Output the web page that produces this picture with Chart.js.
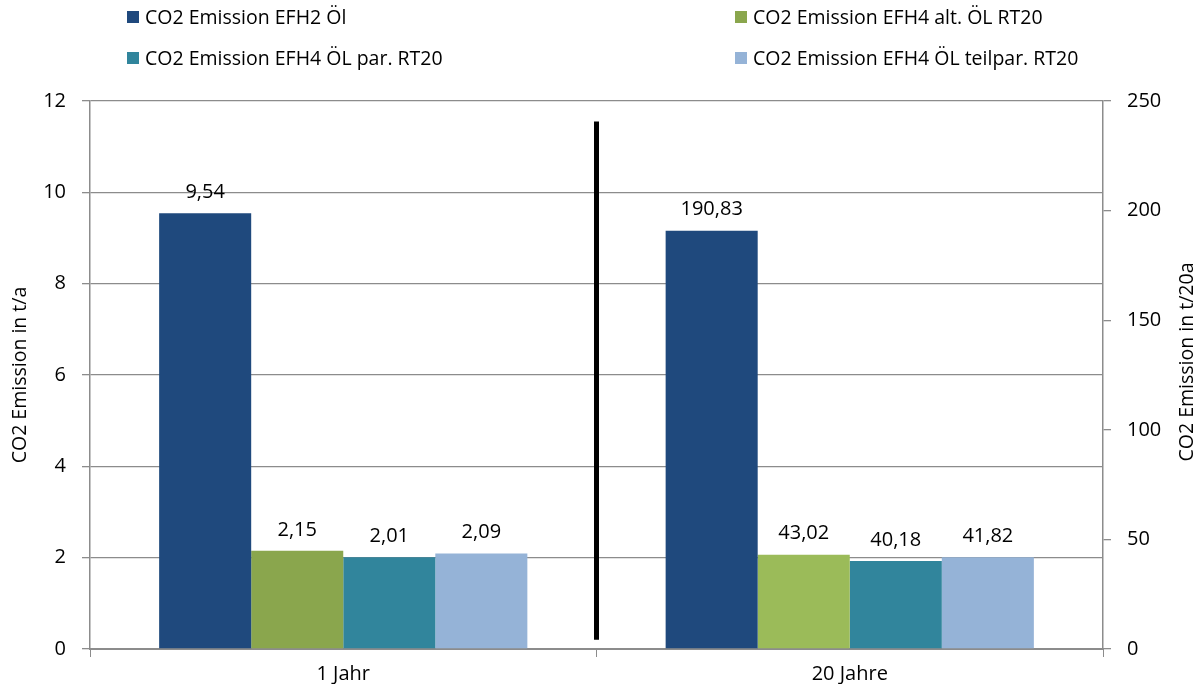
<!DOCTYPE html>
<html>
<head>
<meta charset="utf-8">
<script src="https://cdn.jsdelivr.net/npm/chart.js@4/dist/chart.umd.min.js"></script>
<style>
  html, body { margin: 0; padding: 0; background: #ffffff; }
  #wrap { width: 1198px; height: 684px; position: relative; }
</style>
</head>
<body>
<div id="wrap"><canvas id="chart" width="1198" height="684"></canvas></div>
<script>
// Categories and series
const categories = ['1 Jahr', '20 Jahre'];
const seriesNames = [
  'CO2 Emission EFH2 Öl',
  'CO2 Emission EFH4 alt. ÖL RT20',
  'CO2 Emission EFH4 ÖL par. RT20',
  'CO2 Emission EFH4 ÖL teilpar. RT20'
];
// Emissions per year (left axis, t/a)
const oneYear = [9.54, 2.15, 2.01, 2.09];
// Emissions over 20 years (right axis, t/20a)
const twentyYears = [190.83, 43.02, 40.18, 41.82];
// Axis ticks
const leftTicks = [0, 2, 4, 6, 8, 10, 12];
const rightTicks = [0, 50, 100, 150, 200, 250];

const colorsOneYear = ['#1F497D', '#8AA64D', '#31859C', '#95B3D7'];
const colorsTwentyYears = ['#1F497D', '#9BBB59', '#31859C', '#95B3D7'];

const FONT = '"Open Sans", "DejaVu Sans", sans-serif';
const GRID = '#8C8C8C';
const RIGHT_TITLE = 'CO2 Emission in t/20a';

const datasets = [];
seriesNames.forEach((name, i) => {
  datasets.push({
    label: name,
    data: [oneYear[i], null],
    yAxisID: 'yL',
    backgroundColor: colorsOneYear[i],
    skipNull: true
  });
});
seriesNames.forEach((name, i) => {
  datasets.push({
    label: name,
    data: [null, twentyYears[i]],
    yAxisID: 'yR',
    backgroundColor: colorsTwentyYears[i],
    skipNull: true
  });
});

// Value labels above each bar, German decimal comma
const valueLabels = {
  id: 'valueLabels',
  afterDatasetsDraw(chart) {
    const ctx = chart.ctx;
    ctx.save();
    ctx.font = '20px ' + FONT;
    ctx.fillStyle = '#000000';
    ctx.textAlign = 'center';
    ctx.textBaseline = 'middle';
    chart.data.datasets.forEach((ds, di) => {
      const meta = chart.getDatasetMeta(di);
      ds.data.forEach((v, idx) => {
        if (v === null || v === undefined) return;
        const el = meta.data[idx];
        ctx.fillText(v.toFixed(2).replace('.', ','), el.x, el.y - 21);
      });
    });
    ctx.restore();
  }
};

// Vertical separator between the two time spans
const separator = {
  id: 'separator',
  afterDatasetsDraw(chart) {
    const x = chart.scales.x.getPixelForDecimal(0.5);
    const yL = chart.scales.yL;
    const ctx = chart.ctx;
    ctx.save();
    ctx.strokeStyle = '#000000';
    ctx.lineWidth = 5;
    ctx.beginPath();
    ctx.moveTo(x, yL.getPixelForValue(11.55));
    ctx.lineTo(x, yL.getPixelForValue(0.2));
    ctx.stroke();
    ctx.restore();
  }
};

// Right axis title, read bottom-to-top like the left one
const rightTitle = {
  id: 'rightTitle',
  afterDraw(chart) {
    const ctx = chart.ctx;
    const area = chart.chartArea;
    ctx.save();
    ctx.translate(1187, (area.top + area.bottom) / 2 - 13);
    ctx.rotate(-Math.PI / 2);
    ctx.font = '19.5px ' + FONT;
    ctx.fillStyle = '#000000';
    ctx.textAlign = 'center';
    ctx.textBaseline = 'middle';
    ctx.fillText(RIGHT_TITLE, 0, 0);
    ctx.restore();
  }
};

// Two-column legend across the top
const topLegend = {
  id: 'topLegend',
  afterDraw(chart) {
    const ctx = chart.ctx;
    const cols = [127, 735];
    const rows = [17, 58];
    ctx.save();
    ctx.font = '19.5px ' + FONT;
    ctx.textBaseline = 'middle';
    ctx.textAlign = 'left';
    seriesNames.forEach((name, i) => {
      const x = cols[i % 2];
      const y = rows[Math.floor(i / 2)];
      ctx.fillStyle = colorsOneYear[i];
      ctx.fillRect(x, y - 6, 12, 12);
      ctx.fillStyle = '#000000';
      ctx.fillText(name, x + 18, y + 1);
    });
    ctx.restore();
  }
};

new Chart(document.getElementById('chart'), {
  type: 'bar',
  data: { labels: categories, datasets },
  plugins: [valueLabels, separator, rightTitle, topLegend],
  options: {
    responsive: false,
    animation: false,
    layout: { padding: { top: 101, left: 0, right: 0, bottom: 0 } },
    datasets: { bar: { barPercentage: 1, categoryPercentage: 0.727 } },
    plugins: { legend: { display: false }, tooltip: { enabled: false } },
    scales: {
      x: {
        afterFit(s) { s.height = 35; },
        border: { color: GRID, width: 2 },
        grid: { offset: true, drawOnChartArea: false, drawTicks: true, tickLength: 8, color: GRID },
        ticks: { color: '#000000', padding: 5, font: { family: FONT, size: 20 } }
      },
      yL: {
        position: 'left',
        min: 0, max: 12,
        afterFit(s) { s.width = 90; },
        afterBuildTicks(s) { s.ticks = leftTicks.map(v => ({ value: v })); },
        border: { color: GRID, width: 1.5 },
        grid: { color: GRID, lineWidth: 1.3, tickLength: 8 },
        ticks: { color: '#000000', padding: 16, font: { family: FONT, size: 20 } },
        title: { display: true, text: 'CO2 Emission in t/a', color: '#000000',
                 font: { family: FONT, size: 19.5 }, padding: { top: 9, bottom: 0 } }
      },
      yR: {
        position: 'right',
        min: 0, max: 250,
        afterFit(s) { s.width = 95; },
        afterBuildTicks(s) { s.ticks = rightTicks.map(v => ({ value: v })); },
        border: { color: GRID, width: 1.5 },
        grid: { drawOnChartArea: false, color: GRID, lineWidth: 1.3, tickLength: 8 },
        ticks: { color: '#000000', padding: 16, font: { family: FONT, size: 20 } }
      }
    }
  }
});
</script>
</body>
</html>
